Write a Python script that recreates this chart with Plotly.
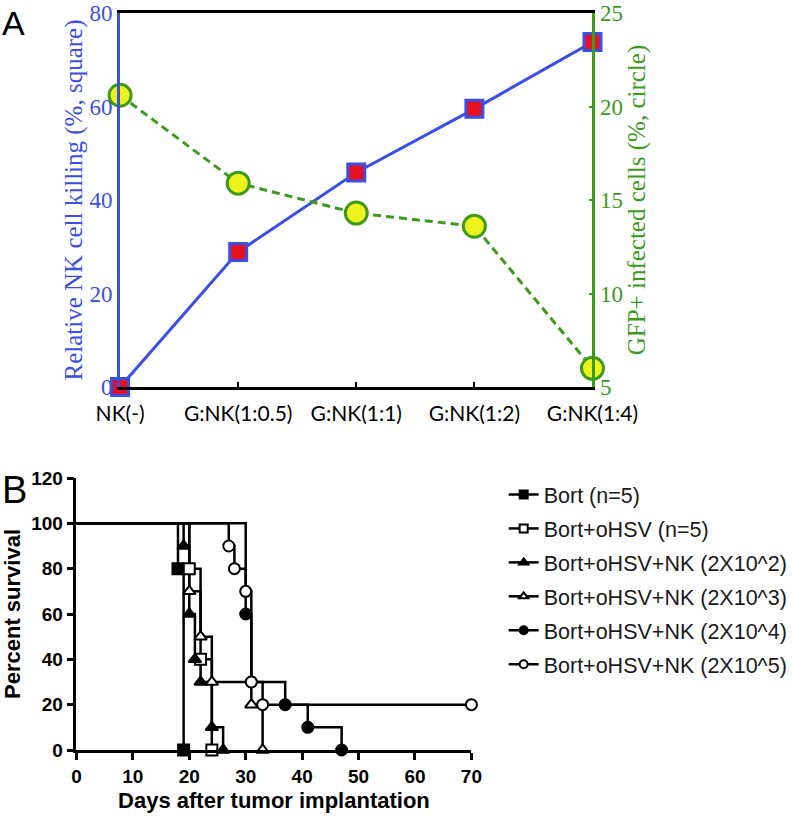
import plotly.graph_objects as go

# ---- Panel A data ----
ratios = ["NK(-)", "G:NK(1:0.5)", "G:NK(1:1)", "G:NK(1:2)", "G:NK(1:4)"]
nk_killing = [0, 28.9, 45.9, 59.5, 73.8]      # left axis, squares
gfp_infected = [20.6, 15.9, 14.3, 13.6, 6.0]   # right axis, circles

# ---- Panel B data (Kaplan-Meier steps) ----
groups = ["Bort (n=5)", "Bort+oHSV (n=5)", "Bort+oHSV+NK (2X10^2)",
          "Bort+oHSV+NK (2X10^3)", "Bort+oHSV+NK (2X10^4)", "Bort+oHSV+NK (2X10^5)"]
days = [
    [0, 18, 19],
    [0, 20, 22, 24],
    [0, 19, 20, 21, 22, 24, 26],
    [0, 20, 22, 24, 31, 33],
    [0, 30, 31, 37, 41, 47],
    [0, 27, 28, 30, 31, 33, 70],
]
survival = [
    [100, 80, 0],
    [100, 80, 40, 0],
    [100, 90, 60, 40, 30, 10, 0],
    [100, 70, 50, 30, 20, 0],
    [100, 60, 30, 20, 10, 0],
    [100, 90, 80, 70, 30, 20, 20],
]
symbols = ["square", "square", "triangle-up", "triangle-up", "circle", "circle"]
fills = ["black", "white", "black", "white", "black", "white"]

W, H = 793, 819
BLUE = "#3a4fe6"
RED = "#e8101e"
GREEN = "#3c9a1c"
YELLOW = "#f0f21e"
serif = "Liberation Serif, Times New Roman, serif"
arial = "Liberation Sans, Arial, sans-serif"

fig = go.Figure()

# panel A
fig.add_trace(go.Scatter(
    x=ratios, y=gfp_infected, xaxis="x", yaxis="y2", mode="lines+markers",
    line=dict(color=GREEN, width=3, dash="8px,5px"),
    marker=dict(symbol="circle", size=22, color=YELLOW, line=dict(color=GREEN, width=3)),
    cliponaxis=False, showlegend=False))
fig.add_trace(go.Scatter(
    x=ratios, y=nk_killing, xaxis="x", yaxis="y", mode="lines+markers",
    line=dict(color=BLUE, width=3),
    marker=dict(symbol="square", size=17, color=RED, line=dict(color=BLUE, width=3)),
    cliponaxis=False, showlegend=False))

# panel B: step lines, then markers at each event
for d, s in zip(days, survival):
    fig.add_trace(go.Scatter(
        x=d, y=s, xaxis="x3", yaxis="y3", mode="lines", line_shape="hv",
        line=dict(color="black", width=2.5), cliponaxis=False,
        showlegend=False, hoverinfo="skip"))
for name, d, s, sym, fc in zip(groups, days, survival, symbols, fills):
    fig.add_trace(go.Scatter(
        x=d[1:], y=s[1:], xaxis="x3", yaxis="y3", mode="markers",
        marker=dict(symbol=sym, size=11, color=fc, line=dict(color="black", width=2)),
        cliponaxis=False, showlegend=False, name=name))
# legend entries
for i, (name, sym, fc) in enumerate(zip(groups, symbols, fills)):
    fig.add_trace(go.Scatter(
        x=[None], y=[None], xaxis="x3", yaxis="y3", mode="lines+markers", name=name,
        legendgroup=str(i),
        line=dict(color="black", width=2.5),
        marker=dict(symbol=sym, size=8, color=fc, line=dict(color="black", width=2))))

fig.update_layout(
    template="none",
    width=W, height=H, margin=dict(l=0, r=0, t=0, b=0, pad=0),
    paper_bgcolor="white", plot_bgcolor="white",
    showlegend=True,
    legend=dict(x=0.64, y=1 - 474 / H, xanchor="left", yanchor="top",
                font=dict(family=arial, size=21.5, color="#1a1a1a"),
                tracegroupgap=3, bgcolor="rgba(0,0,0,0)", itemwidth=30),
    xaxis=dict(domain=[121 / W, 597 / W], anchor="y", range=[0, 4], automargin=False,
               showline=True, linecolor="black", linewidth=2.5, mirror=True,
               ticks="inside", ticklen=5, tickwidth=1.5, tickcolor="black",
               showgrid=False, zeroline=False, ticklabelstandoff=6,
               tickfont=dict(family="Lato, Open Sans, sans-serif", size=21, color="black")),
    yaxis=dict(domain=[1 - 387 / H, 1 - 13 / H], anchor="x", range=[0, 80], dtick=20,
               automargin=False,
               showline=True, linecolor=BLUE, linewidth=3, ticks="",
               showgrid=False, zeroline=False,
               tickfont=dict(family=serif, size=23, color=BLUE),
               title=dict(text="Relative NK cell killing (%, square)",
                          font=dict(family=serif, size=25, color=BLUE), standoff=0)),
    yaxis2=dict(overlaying="y", side="right", anchor="x", range=[5, 25], dtick=5,
                automargin=False,
                showline=True, linecolor=GREEN, linewidth=3,
                ticks="inside", ticklen=3, tickwidth=2, tickcolor=GREEN,
                showgrid=False, zeroline=False,
                tickfont=dict(family=serif, size=23, color=GREEN),
                title=dict(text="GFP+ infected cells (%, circle)",
                           font=dict(family=serif, size=25, color=GREEN), standoff=1)),
    xaxis3=dict(domain=[77 / W, 475 / W], anchor="y3", range=[0, 70], dtick=10,
                automargin=False,
                showline=True, linecolor="black", linewidth=2.5,
                ticks="outside", ticklen=7, tickwidth=2.5, tickcolor="black",
                showgrid=False, zeroline=False,
                tickfont=dict(family=arial, size=19, color="black", weight="bold"),
                title=dict(text="<b>Days after tumor implantation</b>",
                           font=dict(family=arial, size=22, color="black"), standoff=8)),
    yaxis3=dict(domain=[1 - 750 / H, 1 - 478 / H], anchor="x3", range=[0, 120], dtick=20,
                automargin=False,
                showline=True, linecolor="black", linewidth=2.5,
                ticks="outside", ticklen=7, tickwidth=2.5, tickcolor="black",
                showgrid=False, zeroline=False,
                tickfont=dict(family=arial, size=19, color="black", weight="bold"),
                title=dict(text="<b>Percent survival</b>",
                           font=dict(family=arial, size=22, color="black"), standoff=8)),
    annotations=[
        dict(text="A", x=0, y=1 - 2 / H, xref="paper", yref="paper", xanchor="left",
             yanchor="top", showarrow=False, font=dict(family=arial, size=34, color="black")),
        dict(text="B", x=0, y=1 - 467 / H, xref="paper", yref="paper", xanchor="left",
             yanchor="top", showarrow=False, font=dict(family=arial, size=38, color="black")),
    ],
)

# drop the default page margin so the figure sits at the window's top-left corner
fig.write_html("out.html", config={"displayModeBar": False},
               post_script="document.documentElement.style.margin='0';"
                           "document.body.style.margin='0';")
